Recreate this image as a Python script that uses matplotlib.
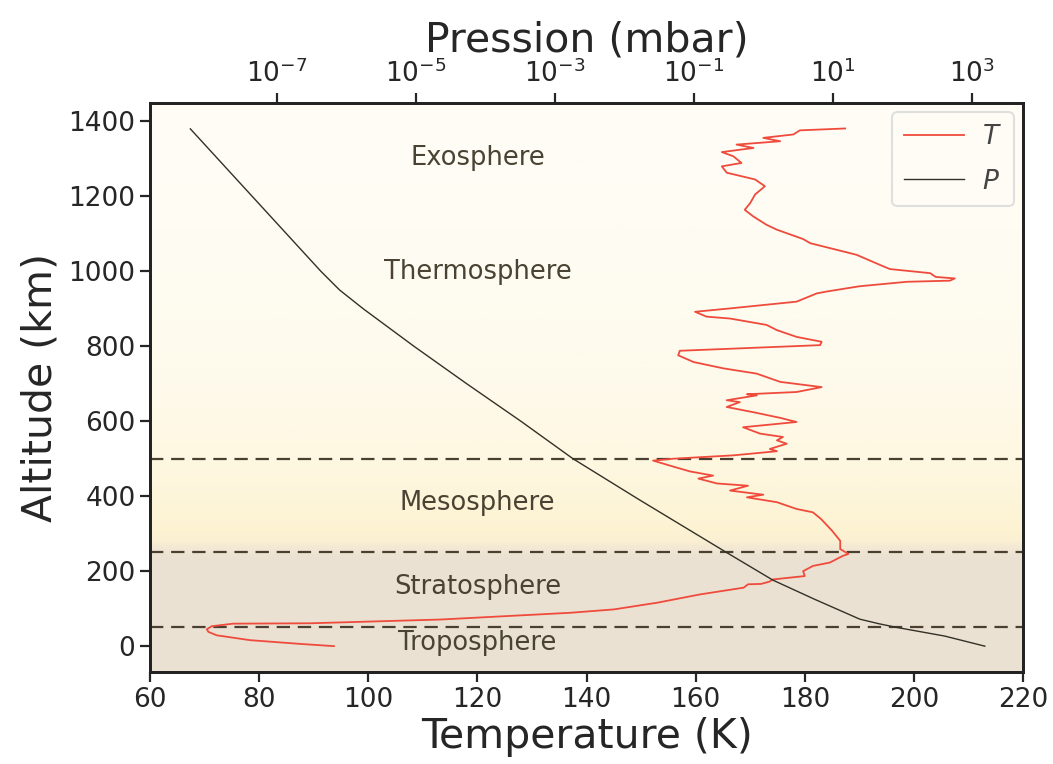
import numpy as np
import matplotlib
matplotlib.use("Agg")
import matplotlib.pyplot as plt
from matplotlib.colors import LinearSegmentedColormap, to_rgb
from matplotlib.ticker import NullLocator

# Temperature profile (K) vs altitude (km)
temp_alt = [0, 6, 16, 29, 38, 45, 53, 60, 61, 71, 89, 98, 116, 138, 156, 165, 166, 172, 178, 187,
            200, 214, 223, 241, 246, 259, 281, 308, 339, 357, 366, 384, 397, 404, 415, 428, 434,
            447, 455, 466, 479, 495, 500, 509, 520, 526, 540, 549, 558, 567, 584, 598, 609, 624,
            638, 651, 656, 669, 672, 678, 691, 705, 727, 741, 758, 776, 788, 803, 812, 825, 843,
            857, 874, 879, 892, 901, 919, 941, 946, 960, 972, 975, 981, 985, 995, 1006, 1017,
            1044, 1075, 1086, 1111, 1124, 1146, 1164, 1182, 1205, 1227, 1245, 1263, 1280, 1289,
            1307, 1318, 1329, 1338, 1347, 1356, 1365, 1376, 1381]
temp_K = [93.7, 87.5, 78.3, 72.2, 70.7, 70.4, 71.3, 75.2, 89.3, 113.2, 137.0, 145.0, 153.0, 160.8,
          168.8, 169.6, 172.0, 173.5, 174.2, 180.0, 179.7, 181.5, 184.6, 187.0, 188.0, 186.5,
          186.5, 185.0, 183.0, 181.5, 178.5, 174.9, 169.4, 172.4, 166.3, 169.6, 163.9, 160.5,
          163.2, 159.0, 155.9, 152.2, 155.9, 166.9, 174.9, 173.6, 176.7, 174.9, 176.0, 171.8,
          168.7, 178.5, 175.5, 170.6, 165.7, 168.1, 165.7, 171.2, 169.4, 178.5, 183.1, 175.5,
          171.2, 165.1, 159.6, 156.8, 157.1, 182.8, 183.1, 178.5, 174.9, 173.0, 166.3, 162.0,
          159.9, 166.3, 178.5, 182.2, 184.0, 190.0, 198.7, 206.6, 207.5, 204.0, 203.0, 195.6,
          193.8, 189.5, 181.0, 179.7, 174.9, 173.0, 170.6, 169.0, 170.0, 170.9, 172.7, 170.9,
          165.7, 164.8, 168.4, 166.9, 164.8, 170.6, 167.5, 175.5, 172.4, 177.9, 179.1, 187.4]

# Pressure profile (mbar) vs altitude (km)
pres_alt = [0, 27, 50, 60, 72, 125, 176, 250, 390, 500, 600, 700, 800, 900, 950, 1000, 1380]
pres_log10_mbar = [3.19, 2.61, 1.92, 1.66, 1.39, 0.74, 0.14, -0.53, -1.78, -2.74, -3.49,
                   -4.27, -5.03, -5.76, -6.10, -6.37, -8.25]
pres_mbar = [10 ** v for v in pres_log10_mbar]

# Layer boundaries (km) and labels
boundaries = [50, 250, 500]
layer_names = ["Troposphere", "Stratosphere", "Mesosphere", "Thermosphere", "Exosphere"]
layer_label_alt = [8, 157, 383, 997, 1303]
layer_label_T = 120

# Background colour stops (altitude km -> colour)
bg_alt = [-80, 240, 258, 280, 310, 420, 520, 700, 1000, 1460]
bg_colors = ["#eae1d3", "#ece2d2", "#f2e8d4", "#fbf0d2", "#fdf3d3", "#fef6dc", "#fef8e3",
             "#fefaeb", "#fefcf2", "#fefdf6"]

TXT = "#262626"
plt.rcParams["font.family"] = ["DejaVu Sans"]

fig = plt.figure(figsize=(10.53, 7.64), dpi=100)
ax = fig.add_axes([0.1425, 0.1204, 0.829, 0.7448])

# Background gradient
lo, hi = bg_alt[0], bg_alt[-1]
stops = [((a - lo) / (hi - lo), to_rgb(c)) for a, c in zip(bg_alt, bg_colors)]
cmap = LinearSegmentedColormap.from_list("bg", stops)
grad = np.linspace(0, 1, 512).reshape(-1, 1)
ax.imshow(grad, extent=[60, 220, lo, hi], origin="lower", aspect="auto", cmap=cmap,
          zorder=0, interpolation="bilinear")

lt, = ax.plot(temp_K, temp_alt, color="#ef4b3d", lw=1.3, zorder=3, label="$T$")
for b in boundaries:
    ax.axhline(b, color="#4a3f30", ls=(0, (6, 3.5)), lw=1.6, zorder=2)

for name, a in zip(layer_names, layer_label_alt):
    ax.text(layer_label_T, a, name, ha="center", va="center", fontsize=18.5,
            color="#4a4232", zorder=4)

ax.set_xlim(60, 220)
ax.set_ylim(-69, 1449)
ax.set_xticks([60, 80, 100, 120, 140, 160, 180, 200, 220])
ax.set_yticks([0, 200, 400, 600, 800, 1000, 1200, 1400])
ax.set_xlabel("Temperature (K)", fontsize=29.5, color=TXT, labelpad=3)
ax.set_ylabel("Altitude (km)", fontsize=29.5, color=TXT, labelpad=6)
ax.tick_params(axis="both", labelsize=19, colors=TXT, length=7, width=1.6, direction="out")

ax2 = ax.twiny()
lp, = ax2.plot(pres_mbar, pres_alt, color="#333026", lw=1.0, zorder=3, label="$P$")
ax2.set_xscale("log")
ax2.set_xlim(10 ** -8.83, 10 ** 3.74)
ax2.set_xticks([1e-7, 1e-5, 1e-3, 1e-1, 1e1, 1e3])
ax2.xaxis.set_minor_locator(NullLocator())
ax2.set_xlabel("Pression (mbar)", fontsize=29.5, color=TXT, labelpad=6)
ax2.tick_params(axis="x", labelsize=19, colors=TXT, length=7, width=1.6, direction="out")

for a in (ax, ax2):
    for s in a.spines.values():
        s.set_linewidth(2.0)
        s.set_color("#222222")

leg = ax2.legend([lt, lp], ["$T$", "$P$"], loc="upper right", fontsize=19, frameon=True,
                 fancybox=True, handlelength=2.25, borderpad=0.45, labelspacing=0.7,
                 handletextpad=0.7, borderaxespad=0.35)
leg.get_frame().set_edgecolor("#d8d8d8")
leg.get_frame().set_facecolor("#fefdf6")
leg.get_frame().set_linewidth(1.5)
for t in leg.get_texts():
    t.set_color("#444444")

fig.savefig("out.png", dpi=100)
